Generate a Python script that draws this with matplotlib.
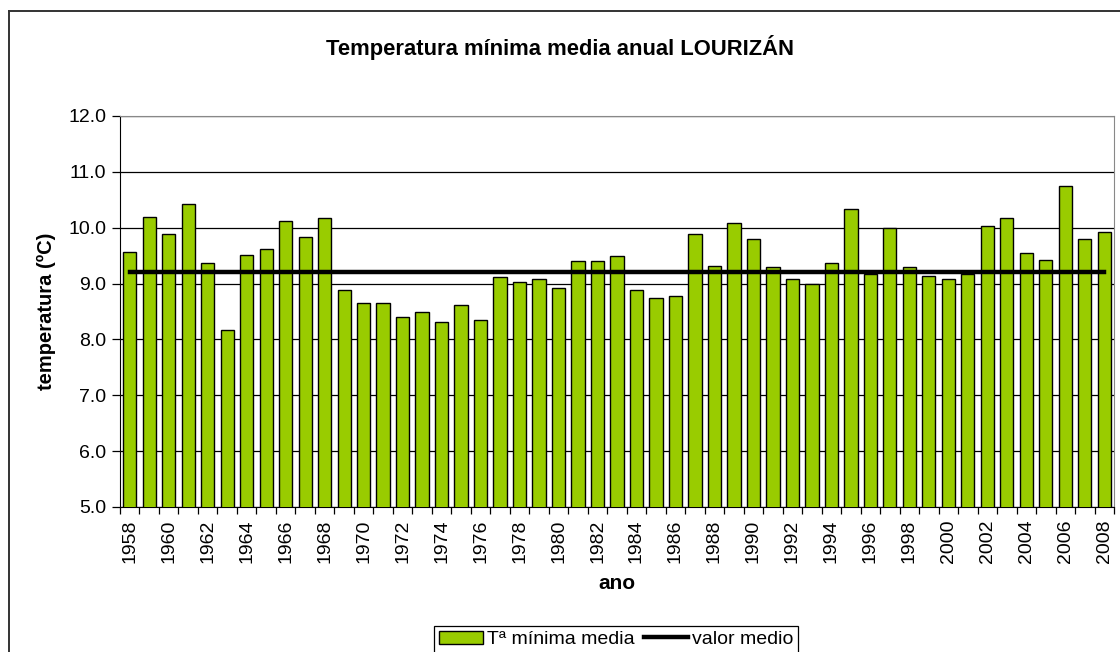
import matplotlib
matplotlib.use('Agg')
import matplotlib.pyplot as plt
from matplotlib.lines import Line2D
import numpy as np

plt.rcParams['font.family'] = ['Liberation Sans', 'DejaVu Sans']

# Data
years = list(range(1958, 2009))
t_min = [9.57, 10.20, 9.89, 10.43, 9.37, 8.17, 9.52, 9.61, 10.12, 9.83,
         10.17, 8.89, 8.65, 8.65, 8.40, 8.49, 8.31, 8.61, 8.34, 9.11,
         9.03, 9.09, 8.92, 9.40, 9.40, 9.49, 8.89, 8.74, 8.77, 9.89,
         9.31, 10.09, 9.80, 9.29, 9.09, 9.00, 9.37, 10.34, 9.18, 10.00,
         9.29, 9.14, 9.08, 9.18, 10.03, 10.17, 9.54, 9.43, 10.74, 9.80,
         9.92]
mean_value = [9.2] * len(years)
yticks = [5.0, 6.0, 7.0, 8.0, 9.0, 10.0, 11.0, 12.0]

fig = plt.figure(figsize=(11.2, 6.52), dpi=100)
ax = fig.add_axes([120 / 1120, 1 - 507 / 652, (1114 - 120) / 1120, (507 - 116) / 652])

x = np.arange(len(years))
bars = ax.bar(x, t_min, width=0.68, color='#99CC00', edgecolor='black', linewidth=1.0,
              label='Tª mínima media', zorder=3)
line, = ax.plot(x, mean_value, color='black', linewidth=3.2, label='valor medio', zorder=4)

ax.set_xlim(-0.5, len(years) - 0.5)
ax.set_ylim(5.0, 12.0)
ax.set_yticks(yticks)
ax.set_yticklabels(['%.1f' % v for v in yticks], fontsize=14)
ax.yaxis.grid(True, color='black', linewidth=0.9, zorder=0)
ax.set_axisbelow(True)

# tick marks between categories, labels every second year
ax.set_xticks(np.arange(len(years) + 1) - 0.5)
ax.set_xticklabels([])
ax.set_xticks(x[::2], minor=True)
ax.set_xticklabels([str(y) for y in years[::2]], minor=True, rotation=90, fontsize=14)
ax.tick_params(axis='x', which='minor', length=0, pad=9)
ax.tick_params(axis='x', which='major', length=5, width=0.9)
ax.tick_params(axis='y', length=6, width=0.9, pad=4)

for s in ['top', 'right']:
    ax.spines[s].set_color('#888888')
for s in ['left', 'bottom']:
    ax.spines[s].set_color('black')

ax.set_xlabel('ano', fontsize=15, fontweight='bold', labelpad=8)
ax.set_ylabel('temperatura (ºC)', fontsize=14.5, fontweight='bold', labelpad=9)
fig.text(0.5, 1 - 47 / 652, 'Temperatura mínima media anual LOURIZÁN',
         ha='center', va='center', fontsize=15.8, fontweight='bold')

leg = fig.legend([bars, line], ['Tª mínima media', 'valor medio'],
                 loc='upper center', bbox_to_anchor=(616 / 1120, 1 - 616 / 652),
                 ncol=2, fontsize=14, frameon=True, fancybox=False,
                 edgecolor='black', framealpha=1, handlelength=2.3,
                 columnspacing=0.45, handletextpad=0.2, borderpad=0.25)
leg.get_frame().set_linewidth(0.9)

# outer chart border (top and left visible)
fig.add_artist(Line2D([9 / 1120, 1.0], [1 - 11 / 652, 1 - 11 / 652], color='#333333', linewidth=1.4))
fig.add_artist(Line2D([9 / 1120, 9 / 1120], [0.0, 1 - 11 / 652], color='#333333', linewidth=1.4))

fig.savefig('out.png', dpi=100)
